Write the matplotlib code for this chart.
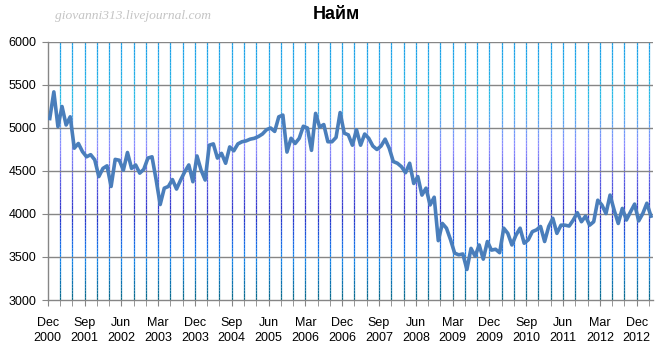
import numpy as np
import matplotlib
matplotlib.use("Agg")
import matplotlib.pyplot as plt
from matplotlib.collections import LineCollection
from matplotlib.colors import LinearSegmentedColormap

# monthly values, Dec 2000 .. Mar 2013
hires = [
    5110, 5420, 5015, 5250, 5035, 5130, 4765, 4820, 4725, 4665, 4690, 4630,
    4435, 4530, 4560, 4320, 4635, 4625, 4510, 4715, 4530, 4570, 4475, 4520,
    4650, 4665, 4400, 4110, 4300, 4320, 4400, 4290, 4395, 4490, 4570, 4375,
    4675, 4510, 4395, 4800, 4815, 4650, 4705, 4590, 4780, 4735, 4815, 4840,
    4850, 4870, 4880, 4900, 4930, 4980, 5000, 4960, 5130, 5150, 4720, 4880,
    4820, 4880, 5020, 5000, 4740, 5170, 5010, 5040, 4840, 4840, 4890, 5180,
    4940, 4920, 4800, 4980, 4800, 4930, 4880, 4790, 4750, 4790, 4870, 4765,
    4610, 4590, 4550, 4480, 4590, 4355, 4435, 4220, 4300, 4105, 4195, 3690,
    3890, 3835, 3700, 3545, 3525, 3535, 3355, 3600, 3510, 3640, 3475, 3680,
    3580, 3590, 3550, 3835, 3775, 3640, 3755, 3835, 3660, 3700, 3795, 3815,
    3855, 3680, 3855, 3950, 3775, 3870, 3870, 3860, 3930, 4015, 3910, 3975,
    3870, 3910, 4160, 4105, 4005, 4220, 4045, 3890, 4065, 3930, 4025, 4115,
    3920, 4005, 4125, 3975,
]
month_names = ["Dec", "Sep", "Jun", "Mar"]
label_years = [2000, 2001, 2002, 2003, 2003, 2004, 2005, 2006, 2006,
               2007, 2008, 2009, 2009, 2010, 2011, 2012, 2012]
tick_labels = [f"{month_names[i % 4]}\n{y}" for i, y in enumerate(label_years)]

n = len(hires)
x = np.arange(n) + 0.5

fig = plt.figure(figsize=(6.59, 3.49), dpi=100)
ax = fig.add_axes([0.0724, 0.1404, 0.9185, 0.7393])
ax.set_xlim(0, n)
ax.set_ylim(3000, 6000)

# gradient vertical gridlines (quarterly)
cmap = LinearSegmentedColormap.from_list("grid", [
    (0.0, "#0a6a88"), (0.17, "#1484f0"), (0.33, "#2a30c8"),
    (0.6, "#8c8cff"), (0.78, "#2cbce6"), (1.0, "#1c9ee8")])
ys = np.linspace(3000, 6000, 80)
segs = []
vals = []
for gx in range(3, n, 3):
    for y0, y1 in zip(ys[:-1], ys[1:]):
        segs.append([(gx, y0), (gx, y1)])
        vals.append((y0 + y1) / 2)
lc = LineCollection(segs, cmap=cmap, linewidths=0.9, zorder=1)
lc.set_array(np.array(vals))
lc.set_clim(3000, 6000)
ax.add_collection(lc)

# horizontal gridlines
for yv in range(3500, 6001, 500):
    ax.axhline(yv, color="#868686", lw=1.0, zorder=2)

ax.plot(x, hires, color="#4a7ebb", lw=2.6, zorder=3, solid_joinstyle="round")

for s in ["top", "right"]:
    ax.spines[s].set_visible(False)
for s in ["left", "bottom"]:
    ax.spines[s].set_color("#868686")
    ax.spines[s].set_linewidth(1.0)

ax.set_yticks(range(3000, 6001, 500))
ax.tick_params(axis="y", direction="out", length=4, color="#868686",
               labelsize=9, pad=4)
ax.set_xticks(range(0, n, 3), minor=True)
ax.set_xticks(range(0, n, 9))
ax.set_xticklabels(tick_labels, linespacing=1.35)
ax.tick_params(axis="x", which="both", direction="out", length=4,
               color="#868686", labelsize=9, pad=8)
for lab in ax.get_xticklabels() + ax.get_yticklabels():
    lab.set_fontfamily("Liberation Sans")

fig.text(0.51, 0.958, "Найм", ha="center", va="center", fontsize=13,
         fontweight="bold", family="Liberation Sans")
fig.text(0.083, 0.955, "giovanni313.livejournal.com", ha="left", va="center",
         fontsize=9.7, style="italic", family="Liberation Serif", color="#c4c4c4")

fig.savefig("out.png", dpi=100)
